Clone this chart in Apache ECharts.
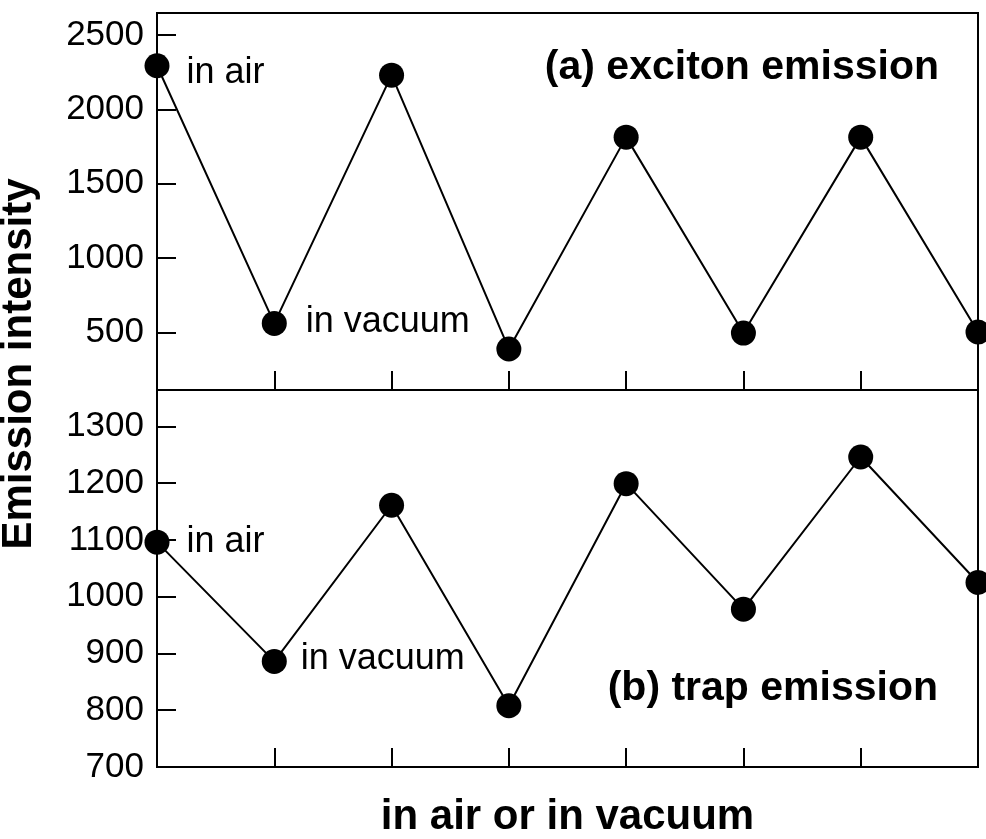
<!DOCTYPE html>
<html>
<head>
<meta charset="utf-8">
<title>Emission intensity</title>
<script src="https://cdn.jsdelivr.net/npm/echarts@6/dist/echarts.min.js"></script>
<style>
  html, body { margin: 0; padding: 0; background: #fff; }
  #chart { width: 986px; height: 839px; }
</style>
</head>
<body>
<div id="chart"></div>
<script>
// data
const steps = [0, 1, 2, 3, 4, 5, 6, 7];
const excitonValues = [2293, 560, 2230, 388, 1813, 495, 1813, 502];
const trapValues = [1096, 886, 1161, 808, 1199, 978, 1246, 1025];
const excitonTicks = [500, 1000, 1500, 2000, 2500];
const trapTicks = [700, 800, 900, 1000, 1100, 1200, 1300];
const noteIndex = [0, 1];
const noteText = ['in air', 'in vacuum'];

const FONT = 'Liberation Sans, Arial, Helvetica, sans-serif';

// label tweaks for the "in air" / "in vacuum" notes of each panel
const topNoteStyle = [{ distance: 17, offset: [0, 7] }, { distance: 19, offset: [0, -1] }];
const botNoteStyle = [{ distance: 17, offset: [0, 0] }, { distance: 14, offset: [0, -2] }];

function buildData(values, noteStyle) {
	return steps.map((x, i) => {
		const item = { value: [x, values[i]] };
		const k = noteIndex.indexOf(i);
		if (k >= 0) {
			item.label = {
				show: true,
				position: 'right',
				formatter: noteText[k],
				distance: noteStyle[k].distance,
				offset: noteStyle[k].offset,
				color: '#000',
				fontSize: 36,
				fontFamily: FONT,
			};
		}
		return item;
	});
}

function xAxisFor(gridIndex) {
	return {
		type: 'value',
		gridIndex: gridIndex,
		min: 0,
		max: 7,
		interval: 1,
		axisLine: { show: true, lineStyle: { color: '#000', width: 2 } },
		axisTick: { show: true, inside: true, length: 19, lineStyle: { color: '#000', width: 2 } },
		axisLabel: { show: false },
		splitLine: { show: false },
	};
}

function yAxisFor(gridIndex, min, max, ticks) {
	return {
		type: 'value',
		gridIndex: gridIndex,
		min: min,
		max: max,
		axisLine: { show: true, lineStyle: { color: '#000', width: 2 } },
		axisTick: { show: true, inside: true, length: 19, customValues: ticks, lineStyle: { color: '#000', width: 2 } },
		axisLabel: {
			show: true,
			customValues: ticks,
			formatter: (v) => String(v),
			margin: 13,
			color: '#000',
			fontSize: 35,
			fontFamily: FONT,
		},
		splitLine: { show: false },
	};
}

const chart = echarts.init(document.getElementById('chart'));
chart.setOption({
	backgroundColor: '#fff',
	animation: false,
	grid: [
		{ left: 157, right: 8, top: 13, height: 377, show: true, borderColor: '#000', borderWidth: 2 },
		{ left: 157, right: 8, top: 390, bottom: 71, show: true, borderColor: '#000', borderWidth: 2 },
	],
	xAxis: [
		xAxisFor(0),
		Object.assign(xAxisFor(1), {
			name: 'in air or in vacuum',
			nameLocation: 'middle',
			nameGap: 29,
			nameTextStyle: { color: '#000', fontSize: 42, fontWeight: 'bold', fontFamily: FONT, verticalAlign: 'top' },
		}),
	],
	yAxis: [
		yAxisFor(0, 112, 2648, excitonTicks),
		yAxisFor(1, 700, 1364, trapTicks),
	],
	series: [
		{
			type: 'line',
			xAxisIndex: 0,
			yAxisIndex: 0,
			data: buildData(excitonValues, topNoteStyle),
			symbol: 'circle',
			symbolSize: 25,
			clip: false,
			itemStyle: { color: '#000' },
			lineStyle: { color: '#000', width: 2 },
		},
		{
			type: 'line',
			xAxisIndex: 1,
			yAxisIndex: 1,
			data: buildData(trapValues, botNoteStyle),
			symbol: 'circle',
			symbolSize: 25,
			clip: false,
			itemStyle: { color: '#000' },
			lineStyle: { color: '#000', width: 2 },
		},
	],
	graphic: [
		{
			type: 'text',
			x: 19,
			y: 364,
			rotation: Math.PI / 2,
			style: { text: 'Emission intensity', fill: '#000', font: 'bold 42px ' + FONT, textAlign: 'center', textVerticalAlign: 'middle' },
		},
		{
			type: 'text',
			x: 939,
			y: 68,
			style: { text: '(a) exciton emission', fill: '#000', font: 'bold 41px ' + FONT, textAlign: 'right', textVerticalAlign: 'middle' },
		},
		{
			type: 'text',
			x: 938,
			y: 689,
			style: { text: '(b) trap emission', fill: '#000', font: 'bold 41px ' + FONT, textAlign: 'right', textVerticalAlign: 'middle' },
		},
	],
});
</script>
</body>
</html>
